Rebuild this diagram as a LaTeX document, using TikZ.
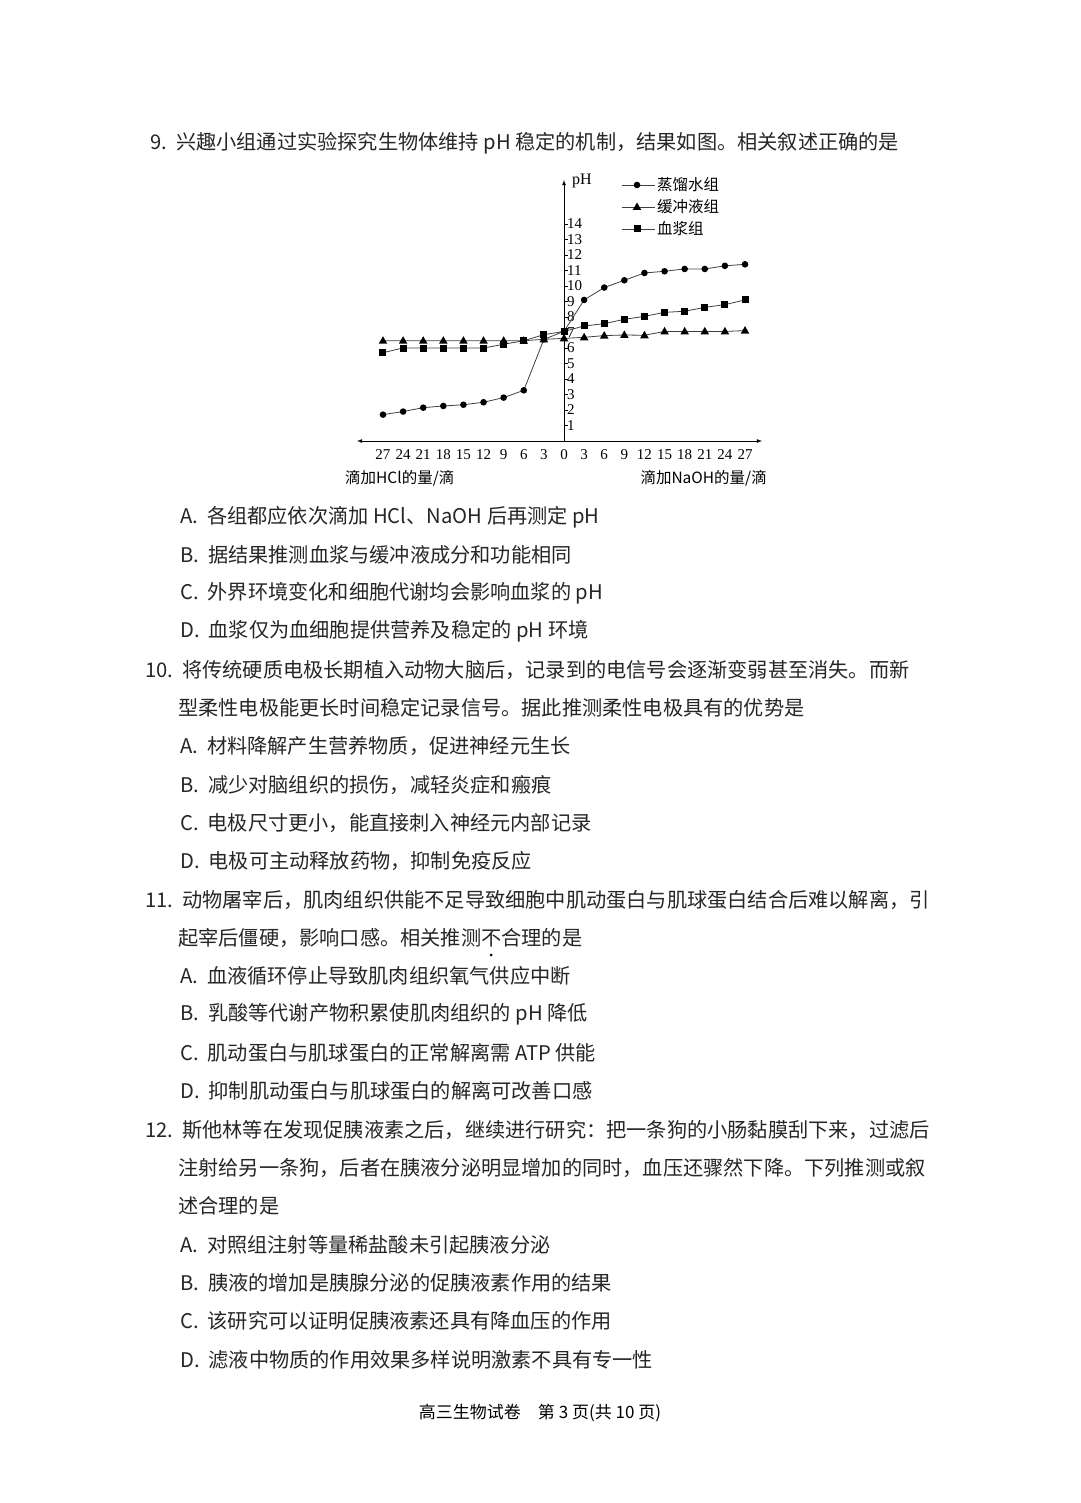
\documentclass[tikz,border=0pt]{standalone}
\usepackage{fontspec}
\usetikzlibrary{calc}
\setmainfont{Liberation Serif}
\newfontfamily\cjk{Noto Sans CJK SC}
\begin{document}
\begin{tikzpicture}[x=1pt,y=-1pt,
  body/.style={anchor=west,inner sep=0pt,font=\cjk\fontsize{20.2}{20.2}\selectfont,text=black!85},
  tick/.style={inner sep=0pt,font=\fontsize{15}{15}\selectfont},
  leg/.style={anchor=west,inner sep=0pt,font=\cjk\fontsize{15.5}{15.5}\selectfont}]
\fill[white] (0,0) rectangle (1080,1503);
\useasboundingbox (0,0) rectangle (1080,1503);
% Q9
\node[body] (q9) at (150,143) {9.\ \ 兴趣小组通过实验探究生物体维持 pH 稳定的机制，结果如图。相关叙述正确的是};
% chart
\draw[thick,<->,>=latex] (357,441) -- (762,441);
\draw[thick,->,>=latex] (564,441) -- (564,180);
\node[inner sep=0pt,anchor=west,font=\fontsize{16}{16}\selectfont] (ph) at (572,181) {pH};
\foreach \p in {1,...,14}{
  \draw (564,{441-15.5*\p}) -- (568,{441-15.5*\p});
  \node[tick,anchor=west] at (567,{441-15.5*\p}) {\p};}
\foreach \d in {27,24,...,3}{
  \node[tick] at ({564-6.704*\d},455) {\d};
  \node[tick] at ({564+6.704*\d},455) {\d};}
\node[tick] at (564,455) {0};
\node[leg] (hl) at (345,478) {滴加HCl的量/滴};
\node[leg,anchor=east] (nl) at (767,478) {滴加NaOH的量/滴};
% data
\def\water{-27/1.7,-24/1.9,-21/2.15,-18/2.26,-15/2.34,-12/2.5,-9/2.8,-6/3.27,-3/6.56,0/7.07,3/9.1,6/9.9,9/10.37,12/10.84,15/10.95,18/11.1,21/11.1,24/11.3,27/11.4}
\def\buff{-27/6.47,-24/6.47,-21/6.47,-18/6.47,-15/6.47,-12/6.47,-9/6.47,-6/6.47,-3/6.56,0/6.62,3/6.69,6/6.8,9/6.84,12/6.82,15/7.07,18/7.07,21/7.07,24/7.07,27/7.12}
\def\plas{-27/5.7,-24/6.0,-21/6.0,-18/6.0,-15/6.0,-12/6.0,-9/6.24,-6/6.47,-3/6.86,0/7.07,3/7.42,6/7.57,9/7.85,12/8.04,15/8.3,18/8.37,21/8.62,24/8.8,27/9.1}
\draw[black!75,line width=0.8pt] ({564-6.704*27},{441-15.5*1.7}) \foreach \d/\p in \water {-- ({564+6.704*\d},{441-15.5*\p})};
\draw[black!75,line width=0.8pt] ({564-6.704*27},{441-15.5*6.47}) \foreach \d/\p in \buff {-- ({564+6.704*\d},{441-15.5*\p})};
\draw[black!75,line width=0.8pt] ({564-6.704*27},{441-15.5*5.7}) \foreach \d/\p in \plas {-- ({564+6.704*\d},{441-15.5*\p})};
\foreach \d/\p in \water{\fill ({564+6.704*\d},{441-15.5*\p}) circle (3.3);}
\foreach \d/\p in \buff{\fill ({564+6.704*\d},{441-15.5*\p-4.5}) -- ++(4.3,7.5) -- ++(-8.6,0) -- cycle;}
\foreach \d/\p in \plas{\fill ({564+6.704*\d-3.5},{441-15.5*\p-3.5}) rectangle ++(7,7);}
% legend
\foreach \y/\t in {185/蒸馏水组,207/缓冲液组,229/血浆组}{
  \draw[black!75,line width=0.8pt] (622,\y) -- (655,\y);
  \node[leg] at (657,\y) {\t};}
\fill (637,185) circle (3.3);
\fill (637,207-4.5) -- ++(4.3,7.5) -- ++(-8.6,0) -- cycle;
\fill (633.5,225.5) rectangle ++(7,7);
\node[body] (a9) at (180,517) {A.\ \ 各组都应依次滴加 HCl、NaOH 后再测定 pH};
\node[body] (b9) at (180,555) {B.\ \ 据结果推测血浆与缓冲液成分和功能相同};
\node[body] (c9) at (180,593) {C.\ \ 外界环境变化和细胞代谢均会影响血浆的 pH};
\node[body] (d9) at (180,631) {D.\ \ 血浆仅为血细胞提供营养及稳定的 pH 环境};
% Q10
\node[body] (q10) at (145,670) {10.\ \ 将传统硬质电极长期植入动物大脑后，记录到的电信号会逐渐变弱甚至消失。而新};
\node[body] (q10b) at (178,708) {型柔性电极能更长时间稳定记录信号。据此推测柔性电极具有的优势是};
\node[body] at (180,746) {A.\ \ 材料降解产生营养物质，促进神经元生长};
\node[body] at (180,785) {B.\ \ 减少对脑组织的损伤，减轻炎症和瘢痕};
\node[body] at (180,823) {C.\ \ 电极尺寸更小，能直接刺入神经元内部记录};
\node[body] at (180,861) {D.\ \ 电极可主动释放药物，抑制免疫反应};
% Q11
\node[body] (q11) at (145,900) {11.\ \ 动物屠宰后，肌肉组织供能不足导致细胞中肌动蛋白与肌球蛋白结合后难以解离，引};
\node[body] (q11b) at (178,938) {起宰后僵硬，影响口感。相关推测不合理的是};
\fill ($(q11b.west)+(15.5*20.2,17)$) circle (1.5);
\node[body] at (180,976) {A.\ \ 血液循环停止导致肌肉组织氧气供应中断};
\node[body] at (180,1014) {B.\ \ 乳酸等代谢产物积累使肌肉组织的 pH 降低};
\node[body] at (180,1053) {C.\ \ 肌动蛋白与肌球蛋白的正常解离需 ATP 供能};
\node[body] at (180,1091) {D.\ \ 抑制肌动蛋白与肌球蛋白的解离可改善口感};
% Q12
\node[body] (q12) at (145,1130) {12.\ \ 斯他林等在发现促胰液素之后，继续进行研究：把一条狗的小肠黏膜刮下来，过滤后};
\node[body] at (178,1168) {注射给另一条狗，后者在胰液分泌明显增加的同时，血压还骤然下降。下列推测或叙};
\node[body] at (178,1206) {述合理的是};
\node[body] at (180,1245) {A.\ \ 对照组注射等量稀盐酸未引起胰液分泌};
\node[body] at (180,1283) {B.\ \ 胰液的增加是胰腺分泌的促胰液素作用的结果};
\node[body] at (180,1321) {C.\ \ 该研究可以证明促胰液素还具有降血压的作用};
\node[body] at (180,1360) {D.\ \ 滤液中物质的作用效果多样说明激素不具有专一性};
\node[inner sep=0pt,font=\cjk\fontsize{17}{17}\selectfont] (ft) at (540,1413) {高三生物试卷\quad 第 3 页(共 10 页)};
\end{tikzpicture}
\end{document}
